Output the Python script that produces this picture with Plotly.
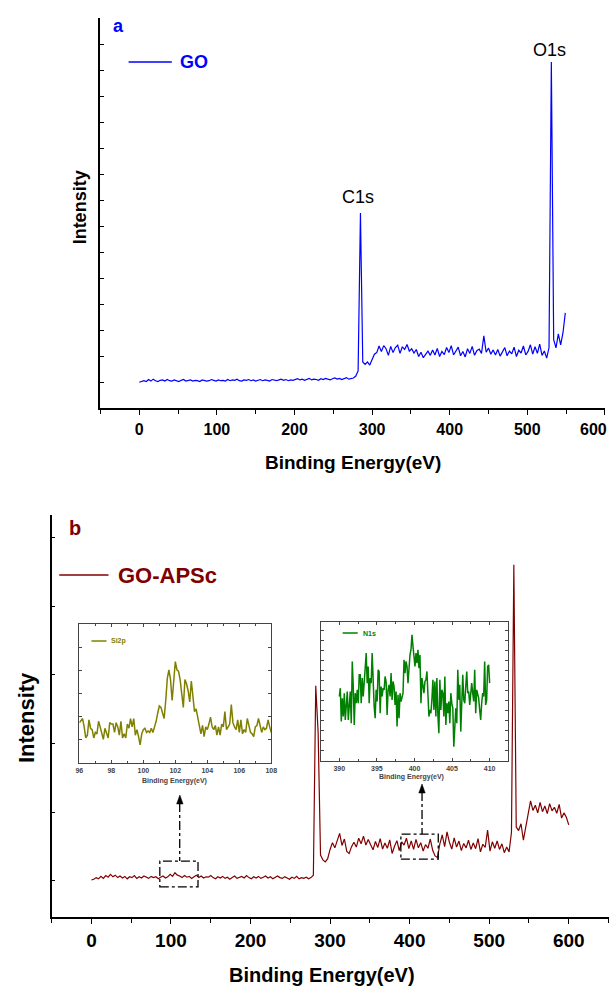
import numpy as np
import plotly.graph_objects as go

W, H = 615, 989
FONT = "Liberation Sans, Arial, sans-serif"

# horizontal calibration of the capture (figure appears slightly squeezed in width)
XS, XOFF = 0.979, 2.0


def px(x):
    return min(1.0, max(0.0, ((x - XOFF) / XS) / W))


def py(y):
    return 1 - y / H


# ---------------- data (arbitrary intensity units) ----------------
STEP = 3  # eV between survey points

GO_intensity = [
    6.6, 6.9, 7.0, 6.8, 7.3, 6.9, 7.4, 7.0, 6.8, 7.1,
    7.2, 6.9, 7.3, 7.0, 6.9, 7.2, 7.0, 6.8, 7.1, 7.3,
    6.9, 7.0, 7.2, 6.9, 7.1, 7.0, 6.8, 7.2, 7.1, 6.9,
    7.0, 7.3, 7.1, 6.9, 7.2, 7.0, 7.1, 6.9, 7.3, 7.0,
    7.2, 7.1, 7.4, 7.0, 6.9, 7.2, 7.1, 7.3, 7.0, 7.2,
    6.9, 7.1, 7.3, 7.0, 7.2, 7.1, 6.9, 7.3, 7.1, 7.0,
    7.2, 7.4, 7.1, 7.3, 7.0, 7.2, 7.1, 7.3, 7.5, 7.2,
    7.4, 7.1, 7.3, 7.6, 7.2, 7.4, 7.3, 7.1, 7.5, 7.3,
    7.6, 7.4, 7.2, 7.5, 7.7, 7.4, 7.6, 7.3, 7.5, 7.8,
    7.4, 7.6, 7.7, 8.2,
    9.5, 50.0, 11.8, 11.2, 11.8, 11.0, 12.5, 13.8, 14.2, 15.9,
    14.5, 16.0, 15.2, 13.5, 15.8, 14.2,
    15.5, 16.1, 14.0, 15.7, 15.0, 16.3, 14.6, 15.2, 14.1, 15.0,
    13.2, 14.3, 12.9, 13.8, 14.6, 13.5, 14.9, 13.6, 15.3, 13.2,
    14.5, 13.7, 15.5, 14.2, 16.0, 13.6, 14.8, 15.6, 13.4, 14.5,
    13.1, 15.2, 14.0, 15.8, 13.5, 14.7, 15.1, 14.0, 18.5, 14.3,
    15.4, 13.8, 14.9, 13.6, 15.0, 13.3, 14.4, 15.5, 13.4, 14.6,
    13.9, 15.6, 13.2, 14.8, 14.1, 15.9, 13.6, 14.5, 16.2, 13.8,
    15.7, 14.0, 16.4, 13.5, 14.6, 12.8, 15.5, 88.7, 17.5, 15.4,
    19.0, 16.2, 19.3, 24.4,
]

APSC_intensity = [
    9.2, 9.4, 9.8, 9.5, 10.1, 9.6, 10.3, 9.9, 10.6, 10.0,
    10.4, 9.8, 10.2, 9.7, 10.1, 9.5, 10.0, 9.8, 10.3, 9.6,
    10.0, 9.7, 10.2, 9.9, 9.6, 10.1, 9.8, 10.0, 9.5, 9.9,
    10.2, 9.7, 10.0, 10.6, 10.1, 11.0, 10.4, 10.2, 9.8, 10.3,
    9.9, 10.1, 9.6, 10.0, 10.4, 9.8, 10.2, 9.7, 10.0, 9.9,
    10.3, 9.8, 9.5, 10.0, 9.7, 10.1, 9.6, 9.9, 9.4, 9.8,
    10.2, 9.6, 9.9, 10.1, 9.7, 10.3, 9.8, 9.5, 10.0, 9.7,
    10.1, 9.6, 9.9, 10.2, 9.7, 10.0, 9.5, 9.9, 10.2, 9.8,
    9.6, 10.0, 9.7, 9.4, 9.9, 9.6, 10.1, 9.5, 9.8, 9.6,
    9.9, 9.5, 9.8, 10.4,
    57.5, 45.8, 15.4, 14.2, 13.7, 14.5, 16.8, 18.5, 17.2, 19.0,
    20.8, 17.8, 19.4, 16.3, 15.8, 17.5,
    18.6, 17.4, 19.6, 18.2, 20.1, 17.9, 19.3, 18.0, 16.7, 18.8,
    17.3, 19.5, 16.9, 18.4, 17.1, 19.2, 15.8, 17.6, 19.0, 16.5,
    18.7, 17.9, 19.6, 17.0, 18.9, 16.8, 19.3, 17.2, 18.5, 16.4,
    18.0, 17.1, 19.4, 16.6, 15.2, 14.8, 18.2, 20.4, 17.5, 21.2,
    18.6, 16.9, 19.7, 17.4, 18.9, 16.5, 18.3, 17.2, 19.1, 16.8,
    18.4, 17.0, 19.5, 16.2, 18.1, 17.3, 21.6, 16.4, 18.7, 17.1,
    18.9, 16.8, 18.2, 16.0, 17.4, 16.2, 21.0, 87.6, 22.4, 21.5,
    23.2, 19.1, 22.6, 25.4, 28.9, 26.5, 27.8, 25.9, 28.5, 26.2,
    27.6, 25.7, 28.2, 26.4, 27.3, 25.8, 28.0, 24.6, 25.9, 24.8,
    22.9,
]

SI2P_intensity = [
    29, 31, 32, 26, 18, 20, 31, 25, 24, 18,
    22, 21, 30, 26, 21, 17, 25, 22, 18, 29,
    28, 28, 22, 29, 26, 20, 30, 18, 21, 18,
    28, 25, 32, 26, 32, 20, 24, 19, 13, 21,
    24, 25, 22, 23, 22, 25, 22, 26, 30, 36,
    41, 40, 36, 32, 45, 61, 67, 60, 45, 60,
    73, 67, 66, 60, 49, 40, 60, 57, 52, 44,
    59, 49, 37, 39, 33, 26, 21, 27, 19, 26,
    24, 28, 33, 26, 24, 27, 20, 26, 20, 28,
    26, 37, 24, 26, 28, 42, 29, 26, 24, 31,
    22, 31, 21, 24, 22, 32, 26, 22, 21, 19,
    26, 27, 32, 26, 22, 26, 24, 25, 31, 26,
    22,
]

N1S_intensity = [
    193, 218, 118, 188, 133, 203, 123, 163, 208, 123,
    163, 208, 113, 298, 223, 108, 203, 173, 213, 173,
    258, 258, 173, 248, 193, 258, 278, 323, 233, 283,
    173, 248, 233, 323, 233, 163, 128, 213, 178, 273,
    268, 143, 223, 193, 218, 213, 253, 238, 138, 213,
    228, 193, 263, 183, 238, 223, 168, 208, 103, 198,
    128, 203, 178, 198, 203, 303, 263, 298, 283, 233,
    288, 318, 333, 378, 343, 313, 283, 323, 293, 333,
    278, 318, 173, 248, 223, 203, 238, 243, 268, 203,
    133, 153, 143, 183, 243, 153, 238, 133, 248, 138,
    83, 243, 153, 213, 203, 133, 253, 108, 173, 143,
    178, 113, 203, 173, 158, 43, 93, 158, 113, 273,
    183, 228, 88, 213, 258, 183, 173, 223, 268, 203,
    208, 168, 193, 233, 203, 178, 273, 143, 213, 203,
    188, 153, 123, 173, 203, 193, 298, 168, 183, 283,
    288, 233,
]

assert len(GO_intensity) == 184, len(GO_intensity)
assert len(APSC_intensity) == 201, len(APSC_intensity)
assert len(SI2P_intensity) == 121, len(SI2P_intensity)

GO_energy = np.arange(len(GO_intensity)) * STEP
APSC_energy = np.arange(len(APSC_intensity)) * STEP
SI2P_energy = np.round(96 + np.arange(len(SI2P_intensity)) * 0.1, 2)
N1S_energy = np.linspace(390, 410, len(N1S_intensity))

MAIN_TICKS = [0, 100, 200, 300, 400, 500, 600]
MAIN_TICK_TEXT = [str(v) for v in MAIN_TICKS]
# panel a: its last label sits at the page edge, so it is drawn as a separate text
A_TICK_TEXT = MAIN_TICK_TEXT[:-1] + [""]

BLUE = "#0000FF"
MAROON = "#800000"
OLIVE = "#808000"
GREEN = "#008000"
INSET_GREY = "#444444"

fig = go.Figure()
fig.add_trace(go.Scatter(x=GO_energy, y=GO_intensity, mode="lines",
                         line=dict(color=BLUE, width=1.2), xaxis="x", yaxis="y",
                         showlegend=False))
fig.add_trace(go.Scatter(x=APSC_energy, y=APSC_intensity, mode="lines",
                         line=dict(color=MAROON, width=1.2), xaxis="x2", yaxis="y2",
                         showlegend=False))
fig.add_trace(go.Scatter(x=SI2P_energy, y=SI2P_intensity, mode="lines",
                         line=dict(color=OLIVE, width=1.5), xaxis="x3", yaxis="y3",
                         showlegend=False))
fig.add_trace(go.Scatter(x=N1S_energy, y=N1S_intensity, mode="lines",
                         line=dict(color=GREEN, width=1.5), xaxis="x4", yaxis="y4",
                         showlegend=False))

main_x_common = dict(showline=True, linecolor="black", linewidth=1.5, ticks="outside",
                     tickcolor="black", tickwidth=1.2, ticklen=5, tickvals=MAIN_TICKS,
                     minor=dict(dtick=50, tick0=0, ticks="outside", ticklen=4, tickcolor="black"),
                     showgrid=False, zeroline=False)
main_y_common = dict(showline=True, linecolor="black", linewidth=1.5, ticks="inside",
                     tickcolor="black", ticklen=4, showticklabels=False,
                     showgrid=False, zeroline=False)
inset_x_common = dict(showline=True, mirror="ticks", linecolor=INSET_GREY, linewidth=1,
                      ticks="inside", ticklen=3, tickcolor=INSET_GREY,
                      tickfont=dict(family=FONT, size=7, color=INSET_GREY, weight="bold"),
                      ticklabelstandoff=1, showgrid=False, zeroline=False)
inset_y_common = dict(showline=True, mirror="ticks", linecolor=INSET_GREY, linewidth=1,
                      ticks="inside", ticklen=3, tickcolor=INSET_GREY,
                      showticklabels=False, showgrid=False, zeroline=False)

fig.update_layout(
    width=W, height=H, margin=dict(l=0, r=0, t=0, b=0),
    paper_bgcolor="white", plot_bgcolor="white", showlegend=False,
    xaxis=dict(domain=[px(98), px(600)], range=[-50, 600], anchor="y",
               ticktext=A_TICK_TEXT,
               tickfont=dict(family=FONT, size=16, color="black", weight="bold"),
               ticklabelstandoff=1, **main_x_common),
    yaxis=dict(domain=[py(408), py(18)], range=[0, 100], anchor="x",
               dtick=100 / 15, tick0=0, **main_y_common),
    xaxis2=dict(domain=[px(49.4), px(603.6)], range=[-50, 650], anchor="y2",
                ticktext=MAIN_TICK_TEXT,
                tickfont=dict(family=FONT, size=19, color="black", weight="bold"),
                ticklabelstandoff=0, **main_x_common),
    yaxis2=dict(domain=[py(917), py(515)], range=[0, 100], anchor="x2",
                dtick=17.1, tick0=8.96, **main_y_common),
    xaxis3=dict(domain=[px(77), px(268)], range=[96, 108], anchor="y3",
                dtick=2, tick0=96, minor=dict(dtick=1, ticks="inside", ticklen=2,
                                             tickcolor=INSET_GREY),
                **inset_x_common),
    yaxis3=dict(domain=[py(763), py(624)], range=[0, 100], anchor="x3",
                dtick=100 / 6, tick0=0, **inset_y_common),
    xaxis4=dict(domain=[px(317), px(504)], range=[387.5, 412.5], anchor="y4",
                dtick=5, tick0=390, minor=dict(dtick=2.5, ticks="inside", ticklen=2,
                                              tickcolor=INSET_GREY),
                **inset_x_common),
    yaxis4=dict(domain=[py(761), py(622)], range=[0, 416], anchor="x4",
                dtick=30, tick0=0, **inset_y_common),
)


def label(text, x, y, size, color="black", bold=True, xanchor="center", angle=0):
    fig.add_annotation(text=text, x=px(x), y=py(y), xref="paper", yref="paper",
                       showarrow=False, xanchor=xanchor, yanchor="middle",
                       textangle=angle,
                       font=dict(family=FONT, size=size, color=color,
                                 weight="bold" if bold else "normal"))


# panel a texts
label("a", 116, 26, 18, BLUE)
label("GO", 175, 62, 18, BLUE, xanchor="left")
label("C1s", 354.5, 197, 18, bold=False)
label("O1s", 544.5, 50, 18, bold=False)
label("Intensity", 78, 207, 18, angle=-90)
label("Binding Energy(eV)", 349, 462, 19)
# last tick label of panel a, kept inside the page edge
fig.add_annotation(text=MAIN_TICK_TEXT[-1], x=1.0, y=py(430), xref="paper", yref="paper",
                   showarrow=False, xanchor="right", yanchor="middle",
                   font=dict(family=FONT, size=16, color="black", weight="bold"))

# panel b texts
label("b", 73, 528, 20, MAROON)
label("GO-APSc", 113, 575, 22, MAROON, xanchor="left")
label("Intensity", 24, 718, 22, angle=-90)
label("Binding Energy(eV)", 318.5, 975, 20)

# inset texts
label("Si2p", 106, 641, 7, OLIVE, xanchor="left")
label("N1s", 357, 633, 7, GREEN, xanchor="left")
label("Binding Energy(eV)", 172, 781, 7, INSET_GREY)
label("Binding Energy(eV)", 407.5, 777, 7, INSET_GREY)

# legend line samples
for (x0, x1, y, c) in [(126, 169, 62, BLUE), (57, 106, 575, MAROON),
                       (89, 104, 641, OLIVE), (339, 354, 633, GREEN)]:
    fig.add_shape(type="line", xref="paper", yref="paper", x0=px(x0), x1=px(x1),
                  y0=py(y), y1=py(y), line=dict(color=c, width=1.5))

# dash-dot zoom boxes on the GO-APSc survey
for (x0, x1, y0, y1) in [(86, 134, 7.5, 13.9), (389, 436, 14.4, 20.6)]:
    fig.add_shape(type="rect", xref="x2", yref="y2", x0=x0, x1=x1, y0=y0, y1=y1,
                  line=dict(color="black", width=1.3, dash="dashdot"))

# dash-dot pointer lines with arrow heads
for (xd, ytop, ybot) in [(111, 803, 861), (415.6, 792, 834)]:
    fig.add_shape(type="line", xref="x2", yref="paper", x0=xd, x1=xd,
                  y0=py(ytop), y1=py(ybot), line=dict(color="black", width=1.3, dash="dashdot"))

for (xt, yt) in [(177, 795), (418, 784)]:
    path = (f"M {px(xt)},{py(yt)} L {px(xt - 3.2)},{py(yt + 9)} "
            f"L {px(xt + 3.2)},{py(yt + 9)} Z")
    fig.add_shape(type="path", xref="paper", yref="paper", path=path,
                  fillcolor="black", line=dict(color="black", width=0.5))

# remove the browser's default 8px page margin so the figure fills the window exactly
PAGE_FIX = ("document.body.style.margin='0';document.body.style.padding='0';"
            "document.documentElement.style.overflow='hidden';")

fig.write_html("out.html", post_script=PAGE_FIX, config={"displayModeBar": False})
